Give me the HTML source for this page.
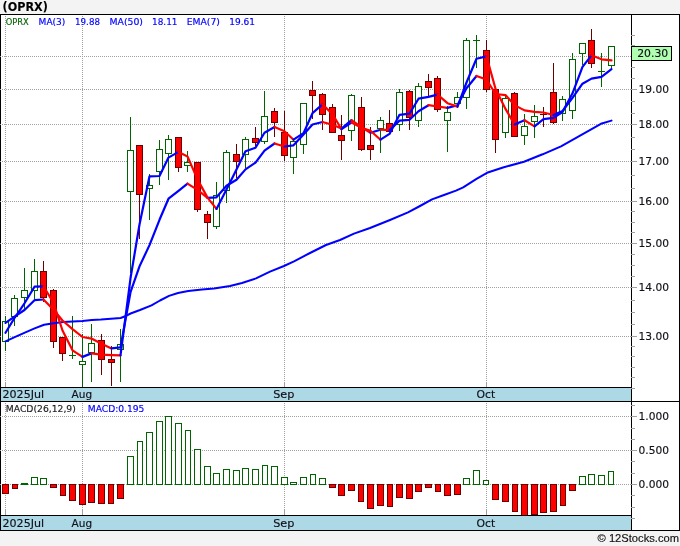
<!DOCTYPE html>
<html lang="en"><head><meta charset="utf-8"><title>(OPRX)</title>
<style>html,body{margin:0;padding:0;background:#f3f3f3;}svg{display:block}</style></head><body>
<svg width="680" height="546" viewBox="0 0 680 546">
<rect x="0" y="0" width="680" height="546" fill="#f3f3f3"/>
<rect x="0" y="14" width="680" height="517" fill="#ffffff"/>
<g shape-rendering="crispEdges">
<rect x="1" y="388" width="630" height="13" fill="#add8e6"/>
<rect x="1" y="516" width="630" height="14" fill="#add8e6"/>
<line x1="2" y1="56.5" x2="631" y2="56.5" stroke="#a0a0a0" stroke-width="1" stroke-dasharray="1,1"/>
<line x1="2" y1="89.5" x2="631" y2="89.5" stroke="#a0a0a0" stroke-width="1" stroke-dasharray="1,1"/>
<line x1="2" y1="124.5" x2="631" y2="124.5" stroke="#a0a0a0" stroke-width="1" stroke-dasharray="1,1"/>
<line x1="2" y1="161.5" x2="631" y2="161.5" stroke="#a0a0a0" stroke-width="1" stroke-dasharray="1,1"/>
<line x1="2" y1="201.5" x2="631" y2="201.5" stroke="#a0a0a0" stroke-width="1" stroke-dasharray="1,1"/>
<line x1="2" y1="243.5" x2="631" y2="243.5" stroke="#a0a0a0" stroke-width="1" stroke-dasharray="1,1"/>
<line x1="2" y1="287.5" x2="631" y2="287.5" stroke="#a0a0a0" stroke-width="1" stroke-dasharray="1,1"/>
<line x1="2" y1="336.5" x2="631" y2="336.5" stroke="#a0a0a0" stroke-width="1" stroke-dasharray="1,1"/>
<line x1="2" y1="416.5" x2="631" y2="416.5" stroke="#a0a0a0" stroke-width="1" stroke-dasharray="1,1"/>
<line x1="2" y1="450.5" x2="631" y2="450.5" stroke="#a0a0a0" stroke-width="1" stroke-dasharray="1,1"/>
<line x1="2" y1="484.5" x2="631" y2="484.5" stroke="#a0a0a0" stroke-width="1" stroke-dasharray="1,1"/>
<line x1="5.5" y1="16" x2="5.5" y2="387" stroke="#a0a0a0" stroke-width="1" stroke-dasharray="1,1"/>
<line x1="5.5" y1="403" x2="5.5" y2="515" stroke="#a0a0a0" stroke-width="1" stroke-dasharray="1,1"/>
<rect x="5" y="383" width="1" height="4" fill="#a0a0a0"/>
<rect x="5" y="510" width="1" height="5" fill="#a0a0a0"/>
<line x1="82.5" y1="16" x2="82.5" y2="387" stroke="#a0a0a0" stroke-width="1" stroke-dasharray="1,1"/>
<line x1="82.5" y1="403" x2="82.5" y2="515" stroke="#a0a0a0" stroke-width="1" stroke-dasharray="1,1"/>
<rect x="82" y="383" width="1" height="4" fill="#a0a0a0"/>
<rect x="82" y="510" width="1" height="5" fill="#a0a0a0"/>
<line x1="284.5" y1="16" x2="284.5" y2="387" stroke="#a0a0a0" stroke-width="1" stroke-dasharray="1,1"/>
<line x1="284.5" y1="403" x2="284.5" y2="515" stroke="#a0a0a0" stroke-width="1" stroke-dasharray="1,1"/>
<rect x="284" y="383" width="1" height="4" fill="#a0a0a0"/>
<rect x="284" y="510" width="1" height="5" fill="#a0a0a0"/>
<line x1="486.5" y1="16" x2="486.5" y2="387" stroke="#a0a0a0" stroke-width="1" stroke-dasharray="1,1"/>
<line x1="486.5" y1="403" x2="486.5" y2="515" stroke="#a0a0a0" stroke-width="1" stroke-dasharray="1,1"/>
<rect x="486" y="383" width="1" height="4" fill="#a0a0a0"/>
<rect x="486" y="510" width="1" height="5" fill="#a0a0a0"/>
</g>
<g shape-rendering="crispEdges">
<rect x="5" y="316" width="1" height="35" fill="#006400"/>
<rect x="2" y="321" width="7" height="21" fill="#006400"/>
<rect x="3" y="322" width="5" height="19" fill="#ffffff"/>
<rect x="14" y="295" width="1" height="31" fill="#006400"/>
<rect x="11" y="298" width="7" height="19" fill="#006400"/>
<rect x="12" y="299" width="5" height="17" fill="#ffffff"/>
<rect x="24" y="268" width="1" height="41" fill="#006400"/>
<rect x="21" y="290" width="7" height="8" fill="#006400"/>
<rect x="22" y="291" width="5" height="6" fill="#ffffff"/>
<rect x="34" y="259" width="1" height="40" fill="#006400"/>
<rect x="31" y="271" width="7" height="20" fill="#006400"/>
<rect x="32" y="272" width="5" height="18" fill="#ffffff"/>
<rect x="43" y="261" width="1" height="41" fill="#6a0000"/>
<rect x="40" y="271" width="7" height="27" fill="#6a0000"/>
<rect x="41" y="272" width="5" height="25" fill="#ff0000"/>
<rect x="53" y="289" width="1" height="59" fill="#6a0000"/>
<rect x="50" y="290" width="7" height="52" fill="#6a0000"/>
<rect x="51" y="291" width="5" height="50" fill="#ff0000"/>
<rect x="62" y="337" width="1" height="24" fill="#6a0000"/>
<rect x="59" y="337" width="7" height="17" fill="#6a0000"/>
<rect x="60" y="338" width="5" height="15" fill="#ff0000"/>
<rect x="72" y="316" width="1" height="43" fill="#006400"/>
<rect x="69" y="355" width="7" height="1" fill="#006400"/>
<rect x="82" y="334" width="1" height="53" fill="#006400"/>
<rect x="79" y="361" width="7" height="4" fill="#006400"/>
<rect x="80" y="362" width="5" height="2" fill="#ffffff"/>
<rect x="91" y="324" width="1" height="58" fill="#006400"/>
<rect x="88" y="343" width="7" height="10" fill="#006400"/>
<rect x="89" y="344" width="5" height="8" fill="#ffffff"/>
<rect x="101" y="334" width="1" height="41" fill="#6a0000"/>
<rect x="98" y="340" width="7" height="20" fill="#6a0000"/>
<rect x="99" y="341" width="5" height="18" fill="#ff0000"/>
<rect x="111" y="346" width="1" height="40" fill="#6a0000"/>
<rect x="108" y="359" width="7" height="4" fill="#6a0000"/>
<rect x="109" y="360" width="5" height="2" fill="#ff0000"/>
<rect x="120" y="329" width="1" height="53" fill="#006400"/>
<rect x="117" y="344" width="7" height="6" fill="#006400"/>
<rect x="118" y="345" width="5" height="4" fill="#ffffff"/>
<rect x="130" y="117" width="1" height="156" fill="#006400"/>
<rect x="127" y="150" width="7" height="42" fill="#006400"/>
<rect x="128" y="151" width="5" height="40" fill="#ffffff"/>
<rect x="139" y="145" width="1" height="94" fill="#6a0000"/>
<rect x="136" y="145" width="7" height="50" fill="#6a0000"/>
<rect x="137" y="146" width="5" height="48" fill="#ff0000"/>
<rect x="149" y="174" width="1" height="46" fill="#006400"/>
<rect x="146" y="185" width="7" height="4" fill="#006400"/>
<rect x="147" y="186" width="5" height="2" fill="#ffffff"/>
<rect x="159" y="140" width="1" height="45" fill="#006400"/>
<rect x="156" y="149" width="7" height="23" fill="#006400"/>
<rect x="157" y="150" width="5" height="21" fill="#ffffff"/>
<rect x="168" y="135" width="1" height="45" fill="#006400"/>
<rect x="165" y="139" width="7" height="15" fill="#006400"/>
<rect x="166" y="140" width="5" height="13" fill="#ffffff"/>
<rect x="178" y="137" width="1" height="35" fill="#6a0000"/>
<rect x="175" y="137" width="7" height="31" fill="#6a0000"/>
<rect x="176" y="138" width="5" height="29" fill="#ff0000"/>
<rect x="187" y="151" width="1" height="21" fill="#006400"/>
<rect x="184" y="162" width="7" height="4" fill="#006400"/>
<rect x="185" y="163" width="5" height="2" fill="#ffffff"/>
<rect x="197" y="162" width="1" height="50" fill="#6a0000"/>
<rect x="194" y="162" width="7" height="48" fill="#6a0000"/>
<rect x="195" y="163" width="5" height="46" fill="#ff0000"/>
<rect x="207" y="211" width="1" height="28" fill="#6a0000"/>
<rect x="204" y="214" width="7" height="9" fill="#6a0000"/>
<rect x="205" y="215" width="5" height="7" fill="#ff0000"/>
<rect x="216" y="182" width="1" height="47" fill="#006400"/>
<rect x="213" y="195" width="7" height="32" fill="#006400"/>
<rect x="214" y="196" width="5" height="30" fill="#ffffff"/>
<rect x="226" y="150" width="1" height="53" fill="#006400"/>
<rect x="223" y="152" width="7" height="39" fill="#006400"/>
<rect x="224" y="153" width="5" height="37" fill="#ffffff"/>
<rect x="236" y="144" width="1" height="34" fill="#6a0000"/>
<rect x="233" y="154" width="7" height="8" fill="#6a0000"/>
<rect x="234" y="155" width="5" height="6" fill="#ff0000"/>
<rect x="245" y="137" width="1" height="31" fill="#006400"/>
<rect x="242" y="139" width="7" height="16" fill="#006400"/>
<rect x="243" y="140" width="5" height="14" fill="#ffffff"/>
<rect x="255" y="127" width="1" height="19" fill="#6a0000"/>
<rect x="252" y="138" width="7" height="5" fill="#6a0000"/>
<rect x="253" y="139" width="5" height="3" fill="#ff0000"/>
<rect x="264" y="91" width="1" height="53" fill="#006400"/>
<rect x="261" y="116" width="7" height="26" fill="#006400"/>
<rect x="262" y="117" width="5" height="24" fill="#ffffff"/>
<rect x="274" y="108" width="1" height="29" fill="#6a0000"/>
<rect x="271" y="111" width="7" height="12" fill="#6a0000"/>
<rect x="272" y="112" width="5" height="10" fill="#ff0000"/>
<rect x="284" y="111" width="1" height="50" fill="#6a0000"/>
<rect x="281" y="132" width="7" height="24" fill="#6a0000"/>
<rect x="282" y="133" width="5" height="22" fill="#ff0000"/>
<rect x="293" y="139" width="1" height="35" fill="#006400"/>
<rect x="290" y="141" width="7" height="17" fill="#006400"/>
<rect x="291" y="142" width="5" height="15" fill="#ffffff"/>
<rect x="303" y="103" width="1" height="51" fill="#006400"/>
<rect x="300" y="103" width="7" height="42" fill="#006400"/>
<rect x="301" y="104" width="5" height="40" fill="#ffffff"/>
<rect x="312" y="81" width="1" height="38" fill="#6a0000"/>
<rect x="309" y="90" width="7" height="6" fill="#6a0000"/>
<rect x="310" y="91" width="5" height="4" fill="#ff0000"/>
<rect x="322" y="93" width="1" height="37" fill="#6a0000"/>
<rect x="319" y="94" width="7" height="21" fill="#6a0000"/>
<rect x="320" y="95" width="5" height="19" fill="#ff0000"/>
<rect x="332" y="104" width="1" height="29" fill="#6a0000"/>
<rect x="329" y="107" width="7" height="26" fill="#6a0000"/>
<rect x="330" y="108" width="5" height="24" fill="#ff0000"/>
<rect x="341" y="115" width="1" height="45" fill="#6a0000"/>
<rect x="338" y="135" width="7" height="6" fill="#6a0000"/>
<rect x="339" y="136" width="5" height="4" fill="#ff0000"/>
<rect x="351" y="94" width="1" height="47" fill="#006400"/>
<rect x="348" y="95" width="7" height="36" fill="#006400"/>
<rect x="349" y="96" width="5" height="34" fill="#ffffff"/>
<rect x="361" y="97" width="1" height="54" fill="#6a0000"/>
<rect x="358" y="107" width="7" height="43" fill="#6a0000"/>
<rect x="359" y="108" width="5" height="41" fill="#ff0000"/>
<rect x="370" y="127" width="1" height="33" fill="#6a0000"/>
<rect x="367" y="145" width="7" height="5" fill="#6a0000"/>
<rect x="368" y="146" width="5" height="3" fill="#ff0000"/>
<rect x="380" y="117" width="1" height="36" fill="#006400"/>
<rect x="377" y="120" width="7" height="9" fill="#006400"/>
<rect x="378" y="121" width="5" height="7" fill="#ffffff"/>
<rect x="389" y="110" width="1" height="22" fill="#6a0000"/>
<rect x="386" y="123" width="7" height="9" fill="#6a0000"/>
<rect x="387" y="124" width="5" height="7" fill="#ff0000"/>
<rect x="399" y="89" width="1" height="42" fill="#006400"/>
<rect x="396" y="92" width="7" height="33" fill="#006400"/>
<rect x="397" y="93" width="5" height="31" fill="#ffffff"/>
<rect x="409" y="90" width="1" height="40" fill="#6a0000"/>
<rect x="406" y="91" width="7" height="27" fill="#6a0000"/>
<rect x="407" y="92" width="5" height="25" fill="#ff0000"/>
<rect x="418" y="83" width="1" height="44" fill="#006400"/>
<rect x="415" y="86" width="7" height="35" fill="#006400"/>
<rect x="416" y="87" width="5" height="33" fill="#ffffff"/>
<rect x="428" y="74" width="1" height="23" fill="#6a0000"/>
<rect x="425" y="81" width="7" height="7" fill="#6a0000"/>
<rect x="426" y="82" width="5" height="5" fill="#ff0000"/>
<rect x="437" y="76" width="1" height="36" fill="#6a0000"/>
<rect x="434" y="78" width="7" height="32" fill="#6a0000"/>
<rect x="435" y="79" width="5" height="30" fill="#ff0000"/>
<rect x="447" y="106" width="1" height="46" fill="#006400"/>
<rect x="444" y="112" width="7" height="9" fill="#006400"/>
<rect x="445" y="113" width="5" height="7" fill="#ffffff"/>
<rect x="457" y="92" width="1" height="16" fill="#006400"/>
<rect x="454" y="97" width="7" height="7" fill="#006400"/>
<rect x="455" y="98" width="5" height="5" fill="#ffffff"/>
<rect x="466" y="38" width="1" height="71" fill="#006400"/>
<rect x="463" y="40" width="7" height="58" fill="#006400"/>
<rect x="464" y="41" width="5" height="56" fill="#ffffff"/>
<rect x="476" y="35" width="1" height="33" fill="#006400"/>
<rect x="473" y="40" width="7" height="1" fill="#006400"/>
<rect x="486" y="40" width="1" height="52" fill="#6a0000"/>
<rect x="483" y="50" width="7" height="40" fill="#6a0000"/>
<rect x="484" y="51" width="5" height="38" fill="#ff0000"/>
<rect x="495" y="89" width="1" height="64" fill="#6a0000"/>
<rect x="492" y="89" width="7" height="51" fill="#6a0000"/>
<rect x="493" y="90" width="5" height="49" fill="#ff0000"/>
<rect x="505" y="96" width="1" height="42" fill="#006400"/>
<rect x="502" y="98" width="7" height="35" fill="#006400"/>
<rect x="503" y="99" width="5" height="33" fill="#ffffff"/>
<rect x="514" y="92" width="1" height="45" fill="#6a0000"/>
<rect x="511" y="93" width="7" height="44" fill="#6a0000"/>
<rect x="512" y="94" width="5" height="42" fill="#ff0000"/>
<rect x="524" y="114" width="1" height="31" fill="#006400"/>
<rect x="521" y="126" width="7" height="10" fill="#006400"/>
<rect x="522" y="127" width="5" height="8" fill="#ffffff"/>
<rect x="534" y="105" width="1" height="33" fill="#006400"/>
<rect x="531" y="116" width="7" height="6" fill="#006400"/>
<rect x="532" y="117" width="5" height="4" fill="#ffffff"/>
<rect x="543" y="107" width="1" height="20" fill="#6a0000"/>
<rect x="540" y="114" width="7" height="1" fill="#6a0000"/>
<rect x="553" y="63" width="1" height="61" fill="#6a0000"/>
<rect x="550" y="92" width="7" height="31" fill="#6a0000"/>
<rect x="551" y="93" width="5" height="29" fill="#ff0000"/>
<rect x="562" y="96" width="1" height="25" fill="#006400"/>
<rect x="559" y="99" width="7" height="15" fill="#006400"/>
<rect x="560" y="100" width="5" height="13" fill="#ffffff"/>
<rect x="572" y="53" width="1" height="66" fill="#006400"/>
<rect x="569" y="59" width="7" height="52" fill="#006400"/>
<rect x="570" y="60" width="5" height="50" fill="#ffffff"/>
<rect x="582" y="43" width="1" height="22" fill="#006400"/>
<rect x="579" y="43" width="7" height="11" fill="#006400"/>
<rect x="580" y="44" width="5" height="9" fill="#ffffff"/>
<rect x="591" y="29" width="1" height="39" fill="#6a0000"/>
<rect x="588" y="40" width="7" height="24" fill="#6a0000"/>
<rect x="589" y="41" width="5" height="22" fill="#ff0000"/>
<rect x="601" y="53" width="1" height="34" fill="#006400"/>
<rect x="598" y="71" width="7" height="1" fill="#006400"/>
<rect x="611" y="46" width="1" height="24" fill="#006400"/>
<rect x="608" y="46" width="7" height="20" fill="#006400"/>
<rect x="609" y="47" width="5" height="18" fill="#ffffff"/>
</g>
<g>
<polyline fill="none" stroke="#0000ff" stroke-width="2.0" stroke-linejoin="round" stroke-linecap="round" points="5.5,341.3 14.7,337.2 24.3,332.8 34.6,328.4 44.1,324.7 53.7,323.2 63.2,322.0 72.8,321.5 82.4,321.0 91.9,320.0 101.0,319.5 111.0,318.7 120.6,318.0 126.5,315.7 130.6,313.5 140.0,310.0 151.5,305.4 160.0,300.5 169.0,295.9 178.0,293.0 188.2,291.0 202.0,289.6 214.0,288.6 230.0,286.0 242.0,283.0 256.0,278.4 270.0,271.6 284.0,266.0 294.0,261.4 310.0,253.0 326.0,245.0 340.0,240.0 354.0,233.6 370.0,228.0 390.0,220.0 408.0,212.4 420.0,206.0 432.0,199.4 444.0,195.0 456.0,190.6 463.2,187.3 476.5,178.9 487.0,172.8 503.0,167.5 524.0,161.7 542.6,154.3 561.0,146.3 582.3,134.4 600.9,123.8 611.5,120.6"/>
<polyline fill="none" stroke="#0000ff" stroke-width="2.2" stroke-linejoin="round" stroke-linecap="round" points="5.5,322.8 14.5,316.6 24.5,310.0 34.5,300.2 43.5,299.5"/>
<polyline fill="none" stroke="#ff0000" stroke-width="2.2" stroke-linejoin="round" stroke-linecap="round" points="43.5,299.5 53.5,309.7 62.5,320.5 72.5,329.1 82.5,337.0 91.5,338.6 101.5,343.8 111.5,348.4"/>
<polyline fill="none" stroke="#0000ff" stroke-width="2.2" stroke-linejoin="round" stroke-linecap="round" points="111.5,348.4 120.5,347.4 130.5,292.2 139.5,266.4 149.5,245.1 159.5,219.8 168.5,198.7 178.5,190.8 187.5,183.6"/>
<polyline fill="none" stroke="#ff0000" stroke-width="2.2" stroke-linejoin="round" stroke-linecap="round" points="187.5,183.6 197.5,189.9 207.5,197.9"/>
<polyline fill="none" stroke="#0000ff" stroke-width="2.2" stroke-linejoin="round" stroke-linecap="round" points="207.5,197.9 216.5,197.3 226.5,185.8 236.5,179.7 245.5,169.4 255.5,162.6 264.5,150.7 274.5,143.5"/>
<polyline fill="none" stroke="#ff0000" stroke-width="2.2" stroke-linejoin="round" stroke-linecap="round" points="274.5,143.5 284.5,146.5"/>
<polyline fill="none" stroke="#0000ff" stroke-width="2.2" stroke-linejoin="round" stroke-linecap="round" points="284.5,146.5 293.5,145.3 303.5,134.5 312.5,124.5 322.5,122.0"/>
<polyline fill="none" stroke="#ff0000" stroke-width="2.2" stroke-linejoin="round" stroke-linecap="round" points="322.5,122.0 332.5,124.7 341.5,128.6"/>
<polyline fill="none" stroke="#0000ff" stroke-width="2.2" stroke-linejoin="round" stroke-linecap="round" points="341.5,128.6 351.5,120.1"/>
<polyline fill="none" stroke="#ff0000" stroke-width="2.2" stroke-linejoin="round" stroke-linecap="round" points="351.5,120.1 361.5,127.2 370.5,132.7"/>
<polyline fill="none" stroke="#0000ff" stroke-width="2.2" stroke-linejoin="round" stroke-linecap="round" points="370.5,132.7 380.5,129.7"/>
<polyline fill="none" stroke="#ff0000" stroke-width="2.2" stroke-linejoin="round" stroke-linecap="round" points="380.5,129.7 389.5,130.2"/>
<polyline fill="none" stroke="#0000ff" stroke-width="2.2" stroke-linejoin="round" stroke-linecap="round" points="389.5,130.2 399.5,120.6 409.5,119.8 418.5,111.3 428.5,105.2"/>
<polyline fill="none" stroke="#ff0000" stroke-width="2.2" stroke-linejoin="round" stroke-linecap="round" points="428.5,105.2 437.5,106.5 447.5,107.9"/>
<polyline fill="none" stroke="#0000ff" stroke-width="2.2" stroke-linejoin="round" stroke-linecap="round" points="447.5,107.9 457.5,105.3 466.5,88.3 476.5,76.0"/>
<polyline fill="none" stroke="#ff0000" stroke-width="2.2" stroke-linejoin="round" stroke-linecap="round" points="476.5,76.0 486.5,79.5 495.5,94.0 505.5,95.1 514.5,105.1 524.5,110.4 534.5,111.9 543.5,112.5 553.5,115.0"/>
<polyline fill="none" stroke="#0000ff" stroke-width="2.2" stroke-linejoin="round" stroke-linecap="round" points="553.5,115.0 562.5,111.1 572.5,97.8 582.5,83.7 591.5,78.6 601.5,76.8 611.5,69.1"/>
<polyline fill="none" stroke="#0000ff" stroke-width="2.2" stroke-linejoin="round" stroke-linecap="round" points="5.5,332.8 14.5,318.0 24.5,303.3 34.5,286.7 43.5,286.4"/>
<polyline fill="none" stroke="#ff0000" stroke-width="2.2" stroke-linejoin="round" stroke-linecap="round" points="43.5,286.4 53.5,302.8 62.5,330.5 72.5,350.3 82.5,356.9"/>
<polyline fill="none" stroke="#0000ff" stroke-width="2.2" stroke-linejoin="round" stroke-linecap="round" points="82.5,356.9 91.5,353.4"/>
<polyline fill="none" stroke="#ff0000" stroke-width="2.2" stroke-linejoin="round" stroke-linecap="round" points="91.5,353.4 101.5,354.7 111.5,355.1 120.5,355.4"/>
<polyline fill="none" stroke="#0000ff" stroke-width="2.2" stroke-linejoin="round" stroke-linecap="round" points="120.5,355.4 130.5,278.3 139.5,224.5 149.5,176.3 159.5,176.0 168.5,157.6 178.5,151.9"/>
<polyline fill="none" stroke="#ff0000" stroke-width="2.2" stroke-linejoin="round" stroke-linecap="round" points="178.5,151.9 187.5,156.4 197.5,179.4 207.5,197.6 216.5,208.9"/>
<polyline fill="none" stroke="#0000ff" stroke-width="2.2" stroke-linejoin="round" stroke-linecap="round" points="216.5,208.9 226.5,189.5 236.5,169.5 245.5,151.2 255.5,147.8 264.5,132.8 274.5,127.0"/>
<polyline fill="none" stroke="#ff0000" stroke-width="2.2" stroke-linejoin="round" stroke-linecap="round" points="274.5,127.0 284.5,131.2 293.5,139.7"/>
<polyline fill="none" stroke="#0000ff" stroke-width="2.2" stroke-linejoin="round" stroke-linecap="round" points="293.5,139.7 303.5,133.1 312.5,113.2 322.5,104.4"/>
<polyline fill="none" stroke="#ff0000" stroke-width="2.2" stroke-linejoin="round" stroke-linecap="round" points="322.5,104.4 332.5,114.1 341.5,129.2"/>
<polyline fill="none" stroke="#0000ff" stroke-width="2.2" stroke-linejoin="round" stroke-linecap="round" points="341.5,129.2 351.5,122.5"/>
<polyline fill="none" stroke="#ff0000" stroke-width="2.2" stroke-linejoin="round" stroke-linecap="round" points="351.5,122.5 361.5,127.8 370.5,130.8 380.5,139.7"/>
<polyline fill="none" stroke="#0000ff" stroke-width="2.2" stroke-linejoin="round" stroke-linecap="round" points="380.5,139.7 389.5,133.9 399.5,114.8 409.5,113.7 418.5,98.7 428.5,96.9 437.5,94.6"/>
<polyline fill="none" stroke="#ff0000" stroke-width="2.2" stroke-linejoin="round" stroke-linecap="round" points="437.5,94.6 447.5,103.2 457.5,106.6"/>
<polyline fill="none" stroke="#0000ff" stroke-width="2.2" stroke-linejoin="round" stroke-linecap="round" points="457.5,106.6 466.5,82.5 476.5,58.7 486.5,56.4"/>
<polyline fill="none" stroke="#ff0000" stroke-width="2.2" stroke-linejoin="round" stroke-linecap="round" points="486.5,56.4 495.5,88.7 505.5,108.9 514.5,124.4"/>
<polyline fill="none" stroke="#0000ff" stroke-width="2.2" stroke-linejoin="round" stroke-linecap="round" points="514.5,124.4 524.5,120.2"/>
<polyline fill="none" stroke="#ff0000" stroke-width="2.2" stroke-linejoin="round" stroke-linecap="round" points="524.5,120.2 534.5,126.4"/>
<polyline fill="none" stroke="#0000ff" stroke-width="2.2" stroke-linejoin="round" stroke-linecap="round" points="534.5,126.4 543.5,119.1 553.5,117.8 562.5,112.0 572.5,93.3 582.5,66.9 591.5,55.3"/>
<polyline fill="none" stroke="#ff0000" stroke-width="2.2" stroke-linejoin="round" stroke-linecap="round" points="591.5,55.3 601.5,59.3 611.5,60.4"/>
</g>
<g shape-rendering="crispEdges">
<rect x="2" y="484" width="7" height="10" fill="#6a0000"/>
<rect x="3" y="485" width="5" height="8" fill="#ff0000"/>
<rect x="12" y="484" width="6" height="5" fill="#6a0000"/>
<rect x="13" y="485" width="4" height="3" fill="#ff0000"/>
<rect x="21" y="483" width="7" height="2" fill="#006400"/>
<rect x="31" y="477" width="7" height="8" fill="#006400"/>
<rect x="32" y="478" width="5" height="6" fill="#ffffff"/>
<rect x="40" y="478" width="7" height="7" fill="#006400"/>
<rect x="41" y="479" width="5" height="5" fill="#ffffff"/>
<rect x="50" y="484" width="7" height="4" fill="#6a0000"/>
<rect x="51" y="485" width="5" height="2" fill="#ff0000"/>
<rect x="60" y="484" width="6" height="12" fill="#6a0000"/>
<rect x="61" y="485" width="4" height="10" fill="#ff0000"/>
<rect x="69" y="484" width="7" height="17" fill="#6a0000"/>
<rect x="70" y="485" width="5" height="15" fill="#ff0000"/>
<rect x="79" y="484" width="7" height="21" fill="#6a0000"/>
<rect x="80" y="485" width="5" height="19" fill="#ff0000"/>
<rect x="88" y="484" width="7" height="19" fill="#6a0000"/>
<rect x="89" y="485" width="5" height="17" fill="#ff0000"/>
<rect x="98" y="484" width="7" height="20" fill="#6a0000"/>
<rect x="99" y="485" width="5" height="18" fill="#ff0000"/>
<rect x="108" y="484" width="6" height="20" fill="#6a0000"/>
<rect x="109" y="485" width="4" height="18" fill="#ff0000"/>
<rect x="117" y="484" width="7" height="15" fill="#6a0000"/>
<rect x="118" y="485" width="5" height="13" fill="#ff0000"/>
<rect x="127" y="456" width="7" height="29" fill="#006400"/>
<rect x="128" y="457" width="5" height="27" fill="#ffffff"/>
<rect x="137" y="441" width="6" height="44" fill="#006400"/>
<rect x="138" y="442" width="4" height="42" fill="#ffffff"/>
<rect x="146" y="432" width="7" height="53" fill="#006400"/>
<rect x="147" y="433" width="5" height="51" fill="#ffffff"/>
<rect x="156" y="421" width="7" height="64" fill="#006400"/>
<rect x="157" y="422" width="5" height="62" fill="#ffffff"/>
<rect x="165" y="416" width="7" height="69" fill="#006400"/>
<rect x="166" y="417" width="5" height="67" fill="#ffffff"/>
<rect x="175" y="423" width="7" height="62" fill="#006400"/>
<rect x="176" y="424" width="5" height="60" fill="#ffffff"/>
<rect x="185" y="430" width="6" height="55" fill="#006400"/>
<rect x="186" y="431" width="4" height="53" fill="#ffffff"/>
<rect x="194" y="449" width="7" height="36" fill="#006400"/>
<rect x="195" y="450" width="5" height="34" fill="#ffffff"/>
<rect x="204" y="466" width="7" height="19" fill="#006400"/>
<rect x="205" y="467" width="5" height="17" fill="#ffffff"/>
<rect x="213" y="473" width="7" height="12" fill="#006400"/>
<rect x="214" y="474" width="5" height="10" fill="#ffffff"/>
<rect x="223" y="469" width="7" height="16" fill="#006400"/>
<rect x="224" y="470" width="5" height="14" fill="#ffffff"/>
<rect x="233" y="470" width="7" height="15" fill="#006400"/>
<rect x="234" y="471" width="5" height="13" fill="#ffffff"/>
<rect x="242" y="468" width="7" height="17" fill="#006400"/>
<rect x="243" y="469" width="5" height="15" fill="#ffffff"/>
<rect x="252" y="469" width="7" height="16" fill="#006400"/>
<rect x="253" y="470" width="5" height="14" fill="#ffffff"/>
<rect x="262" y="465" width="6" height="20" fill="#006400"/>
<rect x="263" y="466" width="4" height="18" fill="#ffffff"/>
<rect x="271" y="466" width="7" height="19" fill="#006400"/>
<rect x="272" y="467" width="5" height="17" fill="#ffffff"/>
<rect x="281" y="477" width="7" height="8" fill="#006400"/>
<rect x="282" y="478" width="5" height="6" fill="#ffffff"/>
<rect x="290" y="482" width="7" height="3" fill="#006400"/>
<rect x="291" y="483" width="5" height="1" fill="#ffffff"/>
<rect x="300" y="477" width="7" height="8" fill="#006400"/>
<rect x="301" y="478" width="5" height="6" fill="#ffffff"/>
<rect x="310" y="474" width="6" height="11" fill="#006400"/>
<rect x="311" y="475" width="4" height="9" fill="#ffffff"/>
<rect x="319" y="478" width="7" height="7" fill="#006400"/>
<rect x="320" y="479" width="5" height="5" fill="#ffffff"/>
<rect x="329" y="484" width="7" height="4" fill="#6a0000"/>
<rect x="330" y="485" width="5" height="2" fill="#ff0000"/>
<rect x="338" y="484" width="7" height="12" fill="#6a0000"/>
<rect x="339" y="485" width="5" height="10" fill="#ff0000"/>
<rect x="348" y="484" width="7" height="7" fill="#6a0000"/>
<rect x="349" y="485" width="5" height="5" fill="#ff0000"/>
<rect x="358" y="484" width="6" height="18" fill="#6a0000"/>
<rect x="359" y="485" width="4" height="16" fill="#ff0000"/>
<rect x="367" y="484" width="7" height="25" fill="#6a0000"/>
<rect x="368" y="485" width="5" height="23" fill="#ff0000"/>
<rect x="377" y="484" width="7" height="22" fill="#6a0000"/>
<rect x="378" y="485" width="5" height="20" fill="#ff0000"/>
<rect x="387" y="484" width="6" height="23" fill="#6a0000"/>
<rect x="388" y="485" width="4" height="21" fill="#ff0000"/>
<rect x="396" y="484" width="7" height="14" fill="#6a0000"/>
<rect x="397" y="485" width="5" height="12" fill="#ff0000"/>
<rect x="406" y="484" width="7" height="15" fill="#6a0000"/>
<rect x="407" y="485" width="5" height="13" fill="#ff0000"/>
<rect x="415" y="484" width="7" height="8" fill="#6a0000"/>
<rect x="416" y="485" width="5" height="6" fill="#ff0000"/>
<rect x="425" y="484" width="7" height="4" fill="#6a0000"/>
<rect x="426" y="485" width="5" height="2" fill="#ff0000"/>
<rect x="435" y="484" width="6" height="8" fill="#6a0000"/>
<rect x="436" y="485" width="4" height="6" fill="#ff0000"/>
<rect x="444" y="484" width="7" height="12" fill="#6a0000"/>
<rect x="445" y="485" width="5" height="10" fill="#ff0000"/>
<rect x="454" y="484" width="7" height="11" fill="#6a0000"/>
<rect x="455" y="485" width="5" height="9" fill="#ff0000"/>
<rect x="463" y="478" width="7" height="7" fill="#006400"/>
<rect x="464" y="479" width="5" height="5" fill="#ffffff"/>
<rect x="473" y="470" width="7" height="15" fill="#006400"/>
<rect x="474" y="471" width="5" height="13" fill="#ffffff"/>
<rect x="483" y="480" width="6" height="5" fill="#006400"/>
<rect x="484" y="481" width="4" height="3" fill="#ffffff"/>
<rect x="492" y="484" width="7" height="16" fill="#6a0000"/>
<rect x="493" y="485" width="5" height="14" fill="#ff0000"/>
<rect x="502" y="484" width="7" height="18" fill="#6a0000"/>
<rect x="503" y="485" width="5" height="16" fill="#ff0000"/>
<rect x="512" y="484" width="6" height="28" fill="#6a0000"/>
<rect x="513" y="485" width="4" height="26" fill="#ff0000"/>
<rect x="521" y="484" width="7" height="32" fill="#6a0000"/>
<rect x="522" y="485" width="5" height="30" fill="#ff0000"/>
<rect x="531" y="484" width="7" height="31" fill="#6a0000"/>
<rect x="532" y="485" width="5" height="29" fill="#ff0000"/>
<rect x="540" y="484" width="7" height="29" fill="#6a0000"/>
<rect x="541" y="485" width="5" height="27" fill="#ff0000"/>
<rect x="550" y="484" width="7" height="28" fill="#6a0000"/>
<rect x="551" y="485" width="5" height="26" fill="#ff0000"/>
<rect x="560" y="484" width="6" height="22" fill="#6a0000"/>
<rect x="561" y="485" width="4" height="20" fill="#ff0000"/>
<rect x="569" y="484" width="7" height="7" fill="#6a0000"/>
<rect x="570" y="485" width="5" height="5" fill="#ff0000"/>
<rect x="579" y="476" width="7" height="9" fill="#006400"/>
<rect x="580" y="477" width="5" height="7" fill="#ffffff"/>
<rect x="588" y="474" width="7" height="11" fill="#006400"/>
<rect x="589" y="475" width="5" height="9" fill="#ffffff"/>
<rect x="598" y="475" width="7" height="10" fill="#006400"/>
<rect x="599" y="476" width="5" height="8" fill="#ffffff"/>
<rect x="608" y="471" width="6" height="14" fill="#006400"/>
<rect x="609" y="472" width="4" height="12" fill="#ffffff"/>
</g>
<g shape-rendering="crispEdges" fill="#000000">
<rect x="0" y="14" width="680" height="1"/>
<rect x="0" y="14" width="1" height="517"/>
<rect x="679" y="14" width="1" height="517"/>
<rect x="631" y="14" width="1" height="517"/>
<rect x="0" y="387" width="632" height="1"/>
<rect x="0" y="401" width="680" height="1"/>
<rect x="0" y="515" width="632" height="1"/>
<rect x="0" y="530" width="680" height="1"/>
<rect x="0" y="56" width="1" height="1" fill="#a0a0a0"/>
<rect x="0" y="89" width="1" height="1" fill="#a0a0a0"/>
<rect x="0" y="124" width="1" height="1" fill="#a0a0a0"/>
<rect x="0" y="161" width="1" height="1" fill="#a0a0a0"/>
<rect x="0" y="201" width="1" height="1" fill="#a0a0a0"/>
<rect x="0" y="243" width="1" height="1" fill="#a0a0a0"/>
<rect x="0" y="287" width="1" height="1" fill="#a0a0a0"/>
<rect x="0" y="336" width="1" height="1" fill="#a0a0a0"/>
<rect x="0" y="416" width="1" height="1" fill="#a0a0a0"/>
<rect x="0" y="450" width="1" height="1" fill="#a0a0a0"/>
<rect x="0" y="484" width="1" height="1" fill="#a0a0a0"/>
</g>
<g shape-rendering="crispEdges" fill="#a0a0a0">
<rect x="631" y="35" width="4" height="1"/>
<rect x="631" y="45" width="4" height="1"/>
<rect x="631" y="67" width="4" height="1"/>
<rect x="631" y="78" width="4" height="1"/>
<rect x="631" y="101" width="4" height="1"/>
<rect x="631" y="113" width="4" height="1"/>
<rect x="631" y="137" width="4" height="1"/>
<rect x="631" y="149" width="4" height="1"/>
<rect x="631" y="175" width="4" height="1"/>
<rect x="631" y="188" width="4" height="1"/>
<rect x="631" y="211" width="4" height="1"/>
<rect x="631" y="222" width="4" height="1"/>
<rect x="631" y="232" width="4" height="1"/>
<rect x="631" y="254" width="4" height="1"/>
<rect x="631" y="265" width="4" height="1"/>
<rect x="631" y="276" width="4" height="1"/>
<rect x="631" y="300" width="4" height="1"/>
<rect x="631" y="312" width="4" height="1"/>
<rect x="631" y="324" width="4" height="1"/>
<rect x="631" y="346" width="4" height="1"/>
<rect x="631" y="356" width="4" height="1"/>
<rect x="631" y="367" width="4" height="1"/>
<rect x="631" y="377" width="4" height="1"/>
<rect x="631" y="388" width="4" height="1"/>
<rect x="631" y="405" width="4" height="1"/>
<rect x="631" y="428" width="4" height="1"/>
<rect x="631" y="439" width="4" height="1"/>
<rect x="631" y="461" width="4" height="1"/>
<rect x="631" y="473" width="4" height="1"/>
<rect x="631" y="495" width="4" height="1"/>
<rect x="631" y="507" width="4" height="1"/>
<rect x="631" y="518" width="4" height="1"/>
<rect x="631" y="56" width="6" height="1"/>
<rect x="631" y="89" width="6" height="1"/>
<rect x="631" y="124" width="6" height="1"/>
<rect x="631" y="161" width="6" height="1"/>
<rect x="631" y="201" width="6" height="1"/>
<rect x="631" y="243" width="6" height="1"/>
<rect x="631" y="287" width="6" height="1"/>
<rect x="631" y="336" width="6" height="1"/>
<rect x="631" y="416" width="6" height="1"/>
<rect x="631" y="450" width="6" height="1"/>
<rect x="631" y="484" width="6" height="1"/>
</g>
<text x="638.5" y="93.3" font-family='"DejaVu Sans","Liberation Sans",sans-serif' font-size="10.5px" fill="#101018" stroke="#101018" stroke-width="0.15" textLength="30.5" lengthAdjust="spacingAndGlyphs">19.00</text>
<text x="638.5" y="128.3" font-family='"DejaVu Sans","Liberation Sans",sans-serif' font-size="10.5px" fill="#101018" stroke="#101018" stroke-width="0.15" textLength="30.5" lengthAdjust="spacingAndGlyphs">18.00</text>
<text x="638.5" y="165.3" font-family='"DejaVu Sans","Liberation Sans",sans-serif' font-size="10.5px" fill="#101018" stroke="#101018" stroke-width="0.15" textLength="30.5" lengthAdjust="spacingAndGlyphs">17.00</text>
<text x="638.5" y="205.3" font-family='"DejaVu Sans","Liberation Sans",sans-serif' font-size="10.5px" fill="#101018" stroke="#101018" stroke-width="0.15" textLength="30.5" lengthAdjust="spacingAndGlyphs">16.00</text>
<text x="638.5" y="247.3" font-family='"DejaVu Sans","Liberation Sans",sans-serif' font-size="10.5px" fill="#101018" stroke="#101018" stroke-width="0.15" textLength="30.5" lengthAdjust="spacingAndGlyphs">15.00</text>
<text x="638.5" y="291.3" font-family='"DejaVu Sans","Liberation Sans",sans-serif' font-size="10.5px" fill="#101018" stroke="#101018" stroke-width="0.15" textLength="30.5" lengthAdjust="spacingAndGlyphs">14.00</text>
<text x="638.5" y="340.3" font-family='"DejaVu Sans","Liberation Sans",sans-serif' font-size="10.5px" fill="#101018" stroke="#101018" stroke-width="0.15" textLength="30.5" lengthAdjust="spacingAndGlyphs">13.00</text>
<text x="638.5" y="420.3" font-family='"DejaVu Sans","Liberation Sans",sans-serif' font-size="10.5px" fill="#101018" stroke="#101018" stroke-width="0.15" textLength="30.5" lengthAdjust="spacingAndGlyphs">1.000</text>
<text x="638.5" y="454.3" font-family='"DejaVu Sans","Liberation Sans",sans-serif' font-size="10.5px" fill="#101018" stroke="#101018" stroke-width="0.15" textLength="30.5" lengthAdjust="spacingAndGlyphs">0.500</text>
<text x="638.5" y="488.3" font-family='"DejaVu Sans","Liberation Sans",sans-serif' font-size="10.5px" fill="#101018" stroke="#101018" stroke-width="0.15" textLength="30.5" lengthAdjust="spacingAndGlyphs">0.000</text>
<g shape-rendering="crispEdges"><rect x="631" y="46" width="41" height="15" fill="#000"/><rect x="632" y="47" width="39" height="13" fill="#b0ffb0"/></g>
<text x="637.2" y="57.2" font-family='"DejaVu Sans","Liberation Sans",sans-serif' font-size="10.5px" fill="#101018" stroke="#101018" stroke-width="0.15" textLength="31.0" lengthAdjust="spacingAndGlyphs">20.30</text>
<text x="2.6" y="10.7" font-family='"DejaVu Sans","Liberation Sans",sans-serif' font-size="11.5px" fill="#000" stroke="#000" stroke-width="0.1" textLength="45.2" lengthAdjust="spacingAndGlyphs" font-weight="bold">(OPRX)</text>
<text x="5.8" y="24.8" font-family='"DejaVu Sans Condensed","DejaVu Sans","Liberation Sans",sans-serif' font-size="9.5px" fill="#006400" stroke="#006400" stroke-width="0.15" textLength="23.0" lengthAdjust="spacingAndGlyphs">OPRX</text>
<text x="38.6" y="24.8" font-family='"DejaVu Sans Condensed","DejaVu Sans","Liberation Sans",sans-serif' font-size="9.5px" fill="#0000ff" stroke="#0000ff" stroke-width="0.15" textLength="26.8" lengthAdjust="spacingAndGlyphs">MA(3)</text>
<text x="75.0" y="24.8" font-family='"DejaVu Sans Condensed","DejaVu Sans","Liberation Sans",sans-serif' font-size="9.5px" fill="#0000ff" stroke="#0000ff" stroke-width="0.15" textLength="25.0" lengthAdjust="spacingAndGlyphs">19.88</text>
<text x="109.5" y="24.8" font-family='"DejaVu Sans Condensed","DejaVu Sans","Liberation Sans",sans-serif' font-size="9.5px" fill="#0000ff" stroke="#0000ff" stroke-width="0.15" textLength="33.5" lengthAdjust="spacingAndGlyphs">MA(50)</text>
<text x="152.0" y="24.8" font-family='"DejaVu Sans Condensed","DejaVu Sans","Liberation Sans",sans-serif' font-size="9.5px" fill="#0000ff" stroke="#0000ff" stroke-width="0.15" textLength="25.5" lengthAdjust="spacingAndGlyphs">18.11</text>
<text x="186.7" y="24.8" font-family='"DejaVu Sans Condensed","DejaVu Sans","Liberation Sans",sans-serif' font-size="9.5px" fill="#0000ff" stroke="#0000ff" stroke-width="0.15" textLength="33.3" lengthAdjust="spacingAndGlyphs">EMA(7)</text>
<text x="229.3" y="24.8" font-family='"DejaVu Sans Condensed","DejaVu Sans","Liberation Sans",sans-serif' font-size="9.5px" fill="#0000ff" stroke="#0000ff" stroke-width="0.15" textLength="25.7" lengthAdjust="spacingAndGlyphs">19.61</text>
<text x="5.8" y="411.7" font-family='"DejaVu Sans Condensed","DejaVu Sans","Liberation Sans",sans-serif' font-size="9.5px" fill="#202020" stroke="#202020" stroke-width="0.15" textLength="70.0" lengthAdjust="spacingAndGlyphs">MACD(26,12,9)</text>
<text x="87.8" y="411.7" font-family='"DejaVu Sans Condensed","DejaVu Sans","Liberation Sans",sans-serif' font-size="9.5px" fill="#0000ff" stroke="#0000ff" stroke-width="0.15" textLength="56.6" lengthAdjust="spacingAndGlyphs">MACD:0.195</text>
<text x="2.5" y="398.2" font-family='"DejaVu Sans","Liberation Sans",sans-serif' font-size="10.5px" fill="#101018" stroke="#101018" stroke-width="0.15" textLength="41.6" lengthAdjust="spacingAndGlyphs">2025Jul</text>
<text x="71.5" y="398.2" font-family='"DejaVu Sans","Liberation Sans",sans-serif' font-size="10.5px" fill="#101018" stroke="#101018" stroke-width="0.15" textLength="20.6" lengthAdjust="spacingAndGlyphs">Aug</text>
<text x="273.2" y="398.2" font-family='"DejaVu Sans","Liberation Sans",sans-serif' font-size="10.5px" fill="#101018" stroke="#101018" stroke-width="0.15" textLength="21.2" lengthAdjust="spacingAndGlyphs">Sep</text>
<text x="476.5" y="398.2" font-family='"DejaVu Sans","Liberation Sans",sans-serif' font-size="10.5px" fill="#101018" stroke="#101018" stroke-width="0.15" textLength="18.7" lengthAdjust="spacingAndGlyphs">Oct</text>
<text x="2.5" y="527.2" font-family='"DejaVu Sans","Liberation Sans",sans-serif' font-size="10.5px" fill="#101018" stroke="#101018" stroke-width="0.15" textLength="41.6" lengthAdjust="spacingAndGlyphs">2025Jul</text>
<text x="71.5" y="527.2" font-family='"DejaVu Sans","Liberation Sans",sans-serif' font-size="10.5px" fill="#101018" stroke="#101018" stroke-width="0.15" textLength="20.6" lengthAdjust="spacingAndGlyphs">Aug</text>
<text x="273.2" y="527.2" font-family='"DejaVu Sans","Liberation Sans",sans-serif' font-size="10.5px" fill="#101018" stroke="#101018" stroke-width="0.15" textLength="21.2" lengthAdjust="spacingAndGlyphs">Sep</text>
<text x="476.5" y="527.2" font-family='"DejaVu Sans","Liberation Sans",sans-serif' font-size="10.5px" fill="#101018" stroke="#101018" stroke-width="0.15" textLength="18.7" lengthAdjust="spacingAndGlyphs">Oct</text>
<text x="597.6" y="542.0" font-family='"Liberation Sans",sans-serif' font-size="11px" fill="#111" stroke="#111" stroke-width="0.15" textLength="81.4" lengthAdjust="spacingAndGlyphs">© 12Stocks.com</text>
</svg></body></html>
